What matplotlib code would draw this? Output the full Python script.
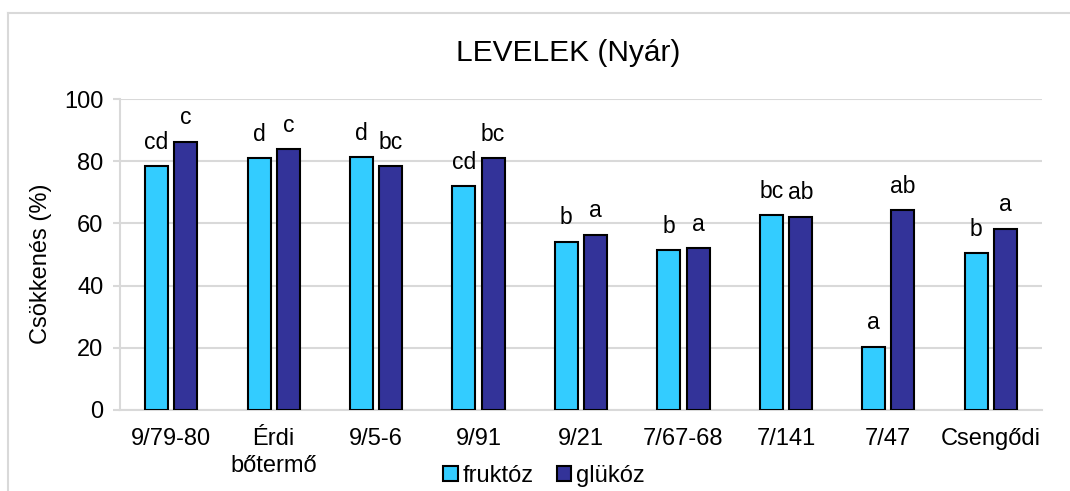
import numpy as np
import matplotlib.pyplot as plt
from matplotlib.lines import Line2D
from matplotlib.patches import Patch

plt.rcParams["font.family"] = ["Liberation Sans", "DejaVu Sans"]

categories = ["9/79-80", "Érdi\nbőtermő", "9/5-6", "9/91", "9/21", "7/67-68", "7/141", "7/47", "Csengődi"]
fruktoz = [78.5, 81.0, 81.2, 72.0, 54.1, 51.4, 62.7, 20.4, 50.5]
glukoz = [86.3, 83.9, 78.5, 81.0, 56.4, 52.1, 62.2, 64.3, 58.3]
fruktoz_letters = ["cd", "d", "d", "cd", "b", "b", "bc", "a", "b"]
glukoz_letters = ["c", "c", "bc", "bc", "a", "a", "ab", "ab", "a"]

fig = plt.figure(figsize=(10.7, 4.91), dpi=100)
ax = fig.add_axes([120 / 1070, 1 - 410 / 491, 922 / 1070, 311 / 491])

x = np.arange(len(categories))
width = 0.225
gap = 0.06
c_fru = "#33ccff"
c_glu = "#333399"

ax.bar(x - (width + gap) / 2, fruktoz, width, color=c_fru, edgecolor="black", linewidth=1.5, zorder=3)
ax.bar(x + (width + gap) / 2, glukoz, width, color=c_glu, edgecolor="black", linewidth=1.5, zorder=3)

for i in range(len(categories)):
    ax.annotate(fruktoz_letters[i], (x[i] - (width + gap) / 2, fruktoz[i]), xytext=(0, 12.5),
                textcoords="offset points", ha="center", va="baseline", fontsize=16.5)
    ax.annotate(glukoz_letters[i], (x[i] + (width + gap) / 2, glukoz[i]), xytext=(0, 12.5),
                textcoords="offset points", ha="center", va="baseline", fontsize=16.5)

ax.set_xlim(-0.5, len(categories) - 0.5)
ax.set_ylim(0, 100)
ax.set_yticks([0, 20, 40, 60, 80, 100])
ax.set_xticks(x)
ax.set_xticklabels(categories, fontsize=17, linespacing=1.3)
ax.tick_params(axis="x", length=0, pad=13)
ax.tick_params(axis="y", length=5, width=1.5, color="#d9d9d9", labelsize=17, pad=7)
ax.grid(axis="y", color="#d9d9d9", linewidth=1.5, zorder=0)
ax.set_axisbelow(True)

for side in ["top", "right"]:
    ax.spines[side].set_visible(False)
for side in ["left", "bottom"]:
    ax.spines[side].set_color("#d9d9d9")
    ax.spines[side].set_linewidth(1.5)

fig.text(41 / 1070, 1 - 264 / 491, "Csökkenés (%)", rotation=90, ha="center", va="center", fontsize=17)

fig.text(568 / 1070, 1 - 53 / 491, "LEVELEK (Nyár)", ha="center", va="center", fontsize=21.5)

handles = [Patch(facecolor=c_fru, edgecolor="black", linewidth=1.5),
           Patch(facecolor=c_glu, edgecolor="black", linewidth=1.5)]
fig.legend(handles, ["fruktóz", "glükóz"], loc="center", bbox_to_anchor=(544 / 1070, 1 - 476 / 491),
           ncol=2, frameon=False, fontsize=17, handlelength=0.6, handleheight=0.6,
           handletextpad=0.2, columnspacing=1.0, borderpad=0)

# outer chart border
fig.add_artist(Line2D([8 / 1070, 1.0], [1 - 13 / 491, 1 - 13 / 491], color="#d9d9d9", linewidth=1.5))
fig.add_artist(Line2D([8 / 1070, 8 / 1070], [0.0, 1 - 13 / 491], color="#d9d9d9", linewidth=1.5))

fig.savefig("out.png", dpi=100)
